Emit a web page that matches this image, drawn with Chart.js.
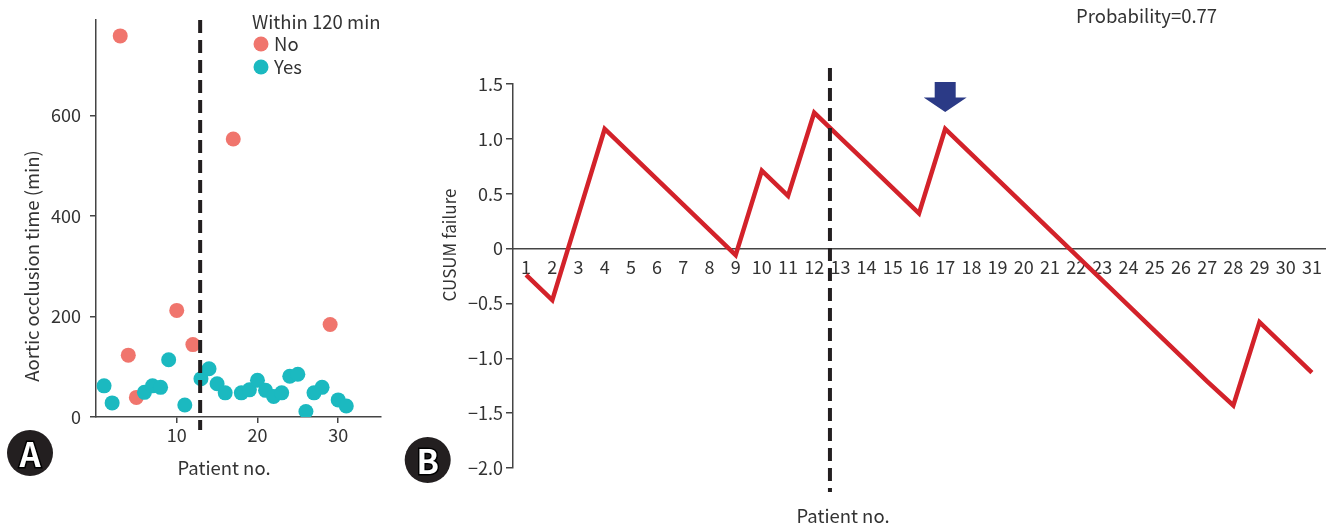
<!DOCTYPE html>
<html>
<head>
<meta charset="utf-8">
<script src="https://cdn.jsdelivr.net/npm/chart.js@4.4.1/dist/chart.umd.min.js"></script>
<style>
  html, body { margin: 0; padding: 0; background: #fff; }
  #wrap { position: relative; width: 1330px; height: 530px; }
  #chartA { position: absolute; left: 0; top: 0; }
  #chartB { position: absolute; left: 400px; top: 0; }
</style>
</head>
<body>
<div id="wrap">
  <canvas id="chartA" width="400" height="530"></canvas>
  <canvas id="chartB" width="930" height="530"></canvas>
</div>
<script>
// Panel A: aortic occlusion time per patient
const patients = [1, 2, 3, 4, 5, 6, 7, 8, 9, 10, 11, 12, 13, 14, 15, 16,
  17, 18, 19, 20, 21, 22, 23, 24, 25, 26, 27, 28, 29, 30, 31];
const occlusionTime = [62, 28, 758, 123, 39, 49, 62, 59, 114, 212, 24, 144, 76, 96, 66, 48,
  553, 48, 54, 73, 53, 41, 48, 81, 85, 11, 48, 59, 184, 34, 22];
const within120 = ['Yes', 'Yes', 'No', 'No', 'No', 'Yes', 'Yes', 'Yes', 'Yes', 'No', 'Yes', 'No', 'Yes', 'Yes', 'Yes', 'Yes',
  'No', 'Yes', 'Yes', 'Yes', 'Yes', 'Yes', 'Yes', 'Yes', 'Yes', 'Yes', 'Yes', 'Yes', 'No', 'Yes', 'Yes'];
const groupNames = ['No', 'Yes'];
const groupColors = ['#F0756D', '#1BB9C0'];
const ticksA_x = [10, 20, 30];
const ticksA_y = [0, 200, 400, 600];

// Panel B: CUSUM failure curve
const cusum = [-0.24, -0.47, 0.31, 1.09, 0.86, 0.63, 0.40, 0.17, -0.06, 0.71, 0.48, 1.24, 1.01, 0.78, 0.55, 0.32,
  1.09, 0.86, 0.63, 0.40, 0.17, -0.06, -0.29, -0.52, -0.75, -0.98, -1.21, -1.43, -0.67, -0.90, -1.13];
const ticksB_y = [-2.0, -1.5, -1.0, -0.5, 0, 0.5, 1.0, 1.5];
const markPatient = 17;      // arrow
const splitA = 12.9;         // dashed line, panel A
const splitB = 12.6;         // dashed line, panel B

const FONT = "'Noto Sans CJK KR', 'Noto Sans', sans-serif";
const TXT = '#333333';
const AXIS = '#444444';

function badge(ctx, x, y, letter) {
  ctx.save();
  ctx.beginPath();
  ctx.arc(x, y, 23, 0, Math.PI * 2);
  ctx.fillStyle = '#231F20';
  ctx.fill();
  ctx.font = 'bold 33px ' + FONT;
  ctx.textAlign = 'center';
  ctx.textBaseline = 'middle';
  ctx.lineWidth = 3;
  ctx.strokeStyle = '#000';
  ctx.strokeText(letter, x, y + 1);
  ctx.fillStyle = '#fff';
  ctx.fillText(letter, x, y + 1);
  ctx.restore();
}

function dashedV(ctx, x, y0, y1) {
  ctx.save();
  ctx.strokeStyle = '#231F20';
  ctx.lineWidth = 4;
  ctx.setLineDash([13, 7]);
  ctx.beginPath();
  ctx.moveTo(x, y0);
  ctx.lineTo(x, y1);
  ctx.stroke();
  ctx.restore();
}

const extrasA = {
  id: 'extrasA',
  afterDatasetsDraw(chart) {
    const ctx = chart.ctx;
    const xs = chart.scales.x;
    dashedV(ctx, xs.getPixelForValue(splitA), 20, 430);
  },
  afterDraw(chart) {
    const ctx = chart.ctx;
    ctx.save();
    ctx.fillStyle = TXT;
    ctx.font = '18.5px ' + FONT;
    ctx.textAlign = 'center';
    ctx.textBaseline = 'middle';
    ctx.fillText('Patient no.', 224, 468);
    ctx.translate(32, 266);
    ctx.rotate(-Math.PI / 2);
    ctx.fillText('Aortic occlusion time (min)', 0, 0);
    ctx.restore();

    // legend
    ctx.save();
    ctx.fillStyle = TXT;
    ctx.font = '18.5px ' + FONT;
    ctx.textAlign = 'left';
    ctx.textBaseline = 'alphabetic';
    ctx.fillText('Within 120 min', 252, 29);
    groupNames.forEach((g, i) => {
      const cy = 44 + i * 23;
      ctx.beginPath();
      ctx.arc(261, cy, 7.5, 0, Math.PI * 2);
      ctx.fillStyle = groupColors[i];
      ctx.fill();
      ctx.fillStyle = TXT;
      ctx.fillText(g, 274, cy + 7);
    });
    ctx.restore();

    badge(ctx, 30, 453, 'A');
  }
};

const datasetsA = groupNames.map((g, i) => ({
  label: g,
  data: patients.map((p, k) => ({ x: p, y: occlusionTime[k], g: within120[k] }))
    .filter(d => d.g === g),
  backgroundColor: groupColors[i],
  borderWidth: 0,
  pointRadius: 7.5,
  pointHoverRadius: 7.5,
  order: g === 'Yes' ? 0 : 1
}));

new Chart(document.getElementById('chartA'), {
  type: 'scatter',
  data: { datasets: datasetsA },
  options: {
    responsive: false,
    animation: false,
    layout: { padding: { left: 0, top: 14, right: 19, bottom: 0 } },
    plugins: { legend: { display: false }, tooltip: { enabled: false } },
    scales: {
      x: {
        type: 'linear', min: 0, max: 35.3,
        afterBuildTicks: s => { s.ticks = ticksA_x.map(v => ({ value: v })); },
        afterFit: s => { s.height = 113; },
        grid: { drawOnChartArea: false, drawTicks: true, tickLength: 6, color: AXIS, lineWidth: 1.5 },
        border: { color: AXIS, width: 1.5 },
        ticks: { color: TXT, font: { family: FONT, size: 18 }, padding: 1, maxRotation: 0 }
      },
      y: {
        type: 'linear', min: 0, max: 790,
        afterBuildTicks: s => { s.ticks = ticksA_y.map(v => ({ value: v })); },
        afterFit: s => { s.width = 96; },
        grid: { drawOnChartArea: false, drawTicks: true, tickLength: 6, color: AXIS, lineWidth: 1.5 },
        border: { color: AXIS, width: 1.5 },
        ticks: { color: TXT, font: { family: FONT, size: 18 }, padding: 9 }
      }
    }
  },
  plugins: [extrasA]
});

const extrasB = {
  id: 'extrasB',
  afterDatasetsDraw(chart) {
    const ctx = chart.ctx;
    const xs = chart.scales.x, ys = chart.scales.y;
    dashedV(ctx, xs.getPixelForValue(splitB), 68, 492);

    // arrow above the marked patient
    const ax = xs.getPixelForValue(markPatient);
    const tip = ys.getPixelForValue(cusum[markPatient - 1]) - 17;
    ctx.save();
    ctx.fillStyle = '#2B3A86';
    ctx.beginPath();
    ctx.moveTo(ax - 10.5, tip - 30);
    ctx.lineTo(ax + 10.5, tip - 30);
    ctx.lineTo(ax + 10.5, tip - 14.5);
    ctx.lineTo(ax + 21.5, tip - 14.5);
    ctx.lineTo(ax, tip);
    ctx.lineTo(ax - 21.5, tip - 14.5);
    ctx.lineTo(ax - 10.5, tip - 14.5);
    ctx.closePath();
    ctx.fill();
    ctx.restore();
  },
  afterDraw(chart) {
    const ctx = chart.ctx;
    ctx.save();
    ctx.fillStyle = TXT;
    ctx.font = '18.5px ' + FONT;
    ctx.textAlign = 'center';
    ctx.textBaseline = 'middle';
    ctx.fillText('Patient no.', 443, 516);
    ctx.textAlign = 'left';
    ctx.textBaseline = 'alphabetic';
    ctx.fillText('Probability=0.77', 676, 23);
    ctx.textAlign = 'center';
    ctx.textBaseline = 'middle';
    ctx.font = '17px ' + FONT;
    ctx.translate(50, 245);
    ctx.rotate(-Math.PI / 2);
    ctx.fillText('CUSUM failure', 0, 0);
    ctx.restore();

    badge(ctx, 27.7, 460, 'B');
  }
};

new Chart(document.getElementById('chartB'), {
  type: 'line',
  data: {
    datasets: [{
      label: 'CUSUM failure',
      data: patients.map((p, k) => ({ x: p, y: cusum[k] })),
      borderColor: '#D3222A',
      borderWidth: 4.5,
      pointRadius: 0,
      tension: 0,
      fill: false
    }]
  },
  options: {
    responsive: false,
    animation: false,
    layout: { padding: { left: 0, top: 84, right: 5, bottom: 62 } },
    plugins: { legend: { display: false }, tooltip: { enabled: false } },
    scales: {
      x: {
        type: 'linear', min: 0.5, max: 31.5,
        position: { y: 0 },
        afterBuildTicks: s => { s.ticks = patients.map(v => ({ value: v })); },
        afterFit: s => { s.height = 0; },
        grid: { display: false, drawTicks: false },
        border: { color: AXIS, width: 1.5 },
        ticks: { color: TXT, font: { family: FONT, size: 18 }, padding: 8, maxRotation: 0, autoSkip: false }
      },
      y: {
        type: 'linear', min: -2, max: 1.5,
        afterBuildTicks: s => { s.ticks = ticksB_y.map(v => ({ value: v })); },
        afterFit: s => { s.width = 113; },
        grid: { drawOnChartArea: false, drawTicks: true, tickLength: 7, color: AXIS, lineWidth: 1.5 },
        border: { color: AXIS, width: 1.5 },
        ticks: {
          color: TXT, font: { family: FONT, size: 18 }, padding: 3,
          callback: v => v === 0 ? '0' : v.toFixed(1).replace('-', '\u2212')
        }
      }
    }
  },
  plugins: [extrasB]
});
</script>
</body>
</html>
